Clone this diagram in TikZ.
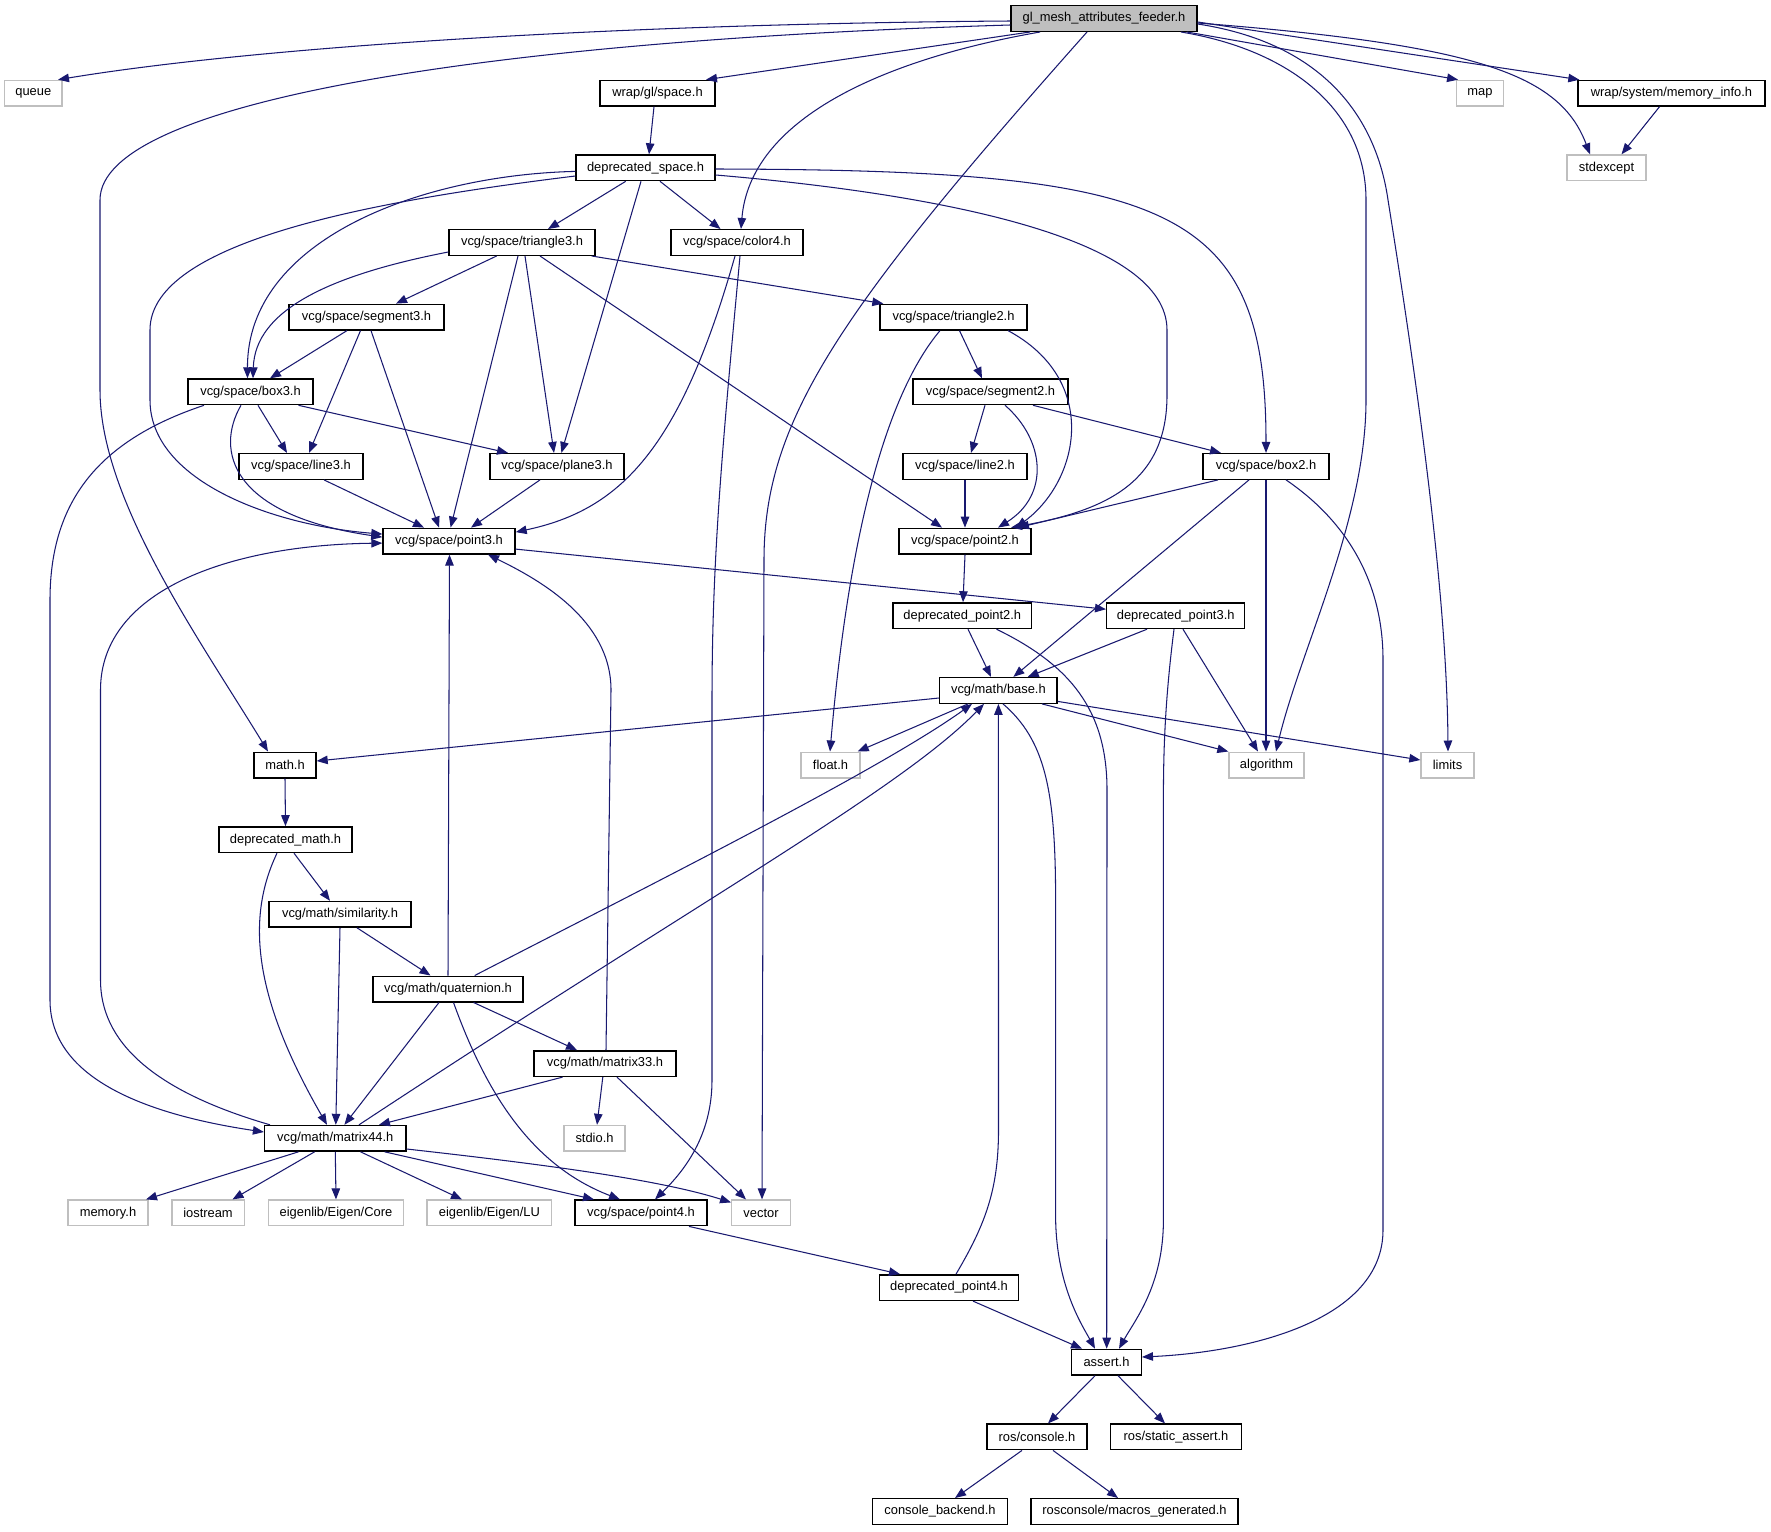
\documentclass[tikz,border=0pt]{standalone}
\usepackage{fontspec}
\setmainfont{Liberation Sans}
\usetikzlibrary{arrows.meta}
\definecolor{edgeblue}{HTML}{191970}
\definecolor{sysgray}{HTML}{BFBFBF}
\begin{document}
\begin{tikzpicture}[x=1pt,y=-1pt,
  hdr/.style={draw=black, fill=white, line width=1.4pt, minimum height=25.6pt, inner sep=0pt, font=\fontsize{12.9pt}{15pt}\selectfont},
  sys/.style={hdr, draw=sysgray},
  root/.style={hdr, fill=sysgray},
  dep/.style={draw=edgeblue, line width=1.05pt, -{Triangle[length=11pt,width=8.5pt]}}]
\useasboundingbox[fill=white] (0,0) rectangle (1771,1531);

\node[root, minimum width=186pt] (main) at (1104,18.5) {gl\_mesh\_attributes\_feeder.h};
\node[sys, minimum width=57.4pt] (queue) at (33.3,93.2) {queue};
\node[hdr, minimum width=115pt] (wrapgl) at (657.5,93.2) {wrap/gl/space.h};
\node[sys, minimum width=46.5pt] (map) at (1480,93.2) {map};
\node[hdr, minimum width=187pt] (meminfo) at (1671.5,93.2) {wrap/system/memory\_info.h};
\node[sys, minimum width=79pt] (stdexcept) at (1606.5,167.8) {stdexcept};
\node[hdr, minimum width=139pt] (depspace) at (645.5,167.8) {deprecated\_space.h};
\node[hdr, minimum width=146pt] (tri3) at (522,242.5) {vcg/space/triangle3.h};
\node[hdr, minimum width=132pt] (color4) at (737,242.5) {vcg/space/color4.h};
\node[hdr, minimum width=155pt] (seg3) at (366.5,317.1) {vcg/space/segment3.h};
\node[hdr, minimum width=147pt] (tri2) at (953.5,317.1) {vcg/space/triangle2.h};
\node[hdr, minimum width=125pt] (box3) at (250.5,391.8) {vcg/space/box3.h};
\node[hdr, minimum width=155pt] (seg2) at (990.5,391.8) {vcg/space/segment2.h};
\node[hdr, minimum width=124pt] (line3) at (301,466.4) {vcg/space/line3.h};
\node[hdr, minimum width=134pt] (plane3) at (557,466.4) {vcg/space/plane3.h};
\node[hdr, minimum width=124pt] (line2) at (965,466.4) {vcg/space/line2.h};
\node[hdr, minimum width=126pt] (box2) at (1266,466.4) {vcg/space/box2.h};
\node[hdr, minimum width=132pt] (point3) at (449,541.1) {vcg/space/point3.h};
\node[hdr, minimum width=132pt] (point2) at (965,541.1) {vcg/space/point2.h};
\node[hdr, minimum width=138.7pt] (dpoint2) at (962.3,615.7) {deprecated\_point2.h};
\node[hdr, minimum width=138pt] (dpoint3) at (1175.7,615.7) {deprecated\_point3.h};
\node[hdr, minimum width=117.3pt] (base) at (998.4,690.4) {vcg/math/base.h};
\node[hdr, minimum width=62pt] (math) at (285,765) {math.h};
\node[sys, minimum width=59pt] (float) at (830.5,765) {float.h};
\node[sys, minimum width=75pt] (algorithm) at (1266.5,765) {algorithm};
\node[sys, minimum width=53pt] (limits) at (1447.5,765) {limits};
\node[hdr, minimum width=133pt] (dmath) at (285.5,839.7) {deprecated\_math.h};
\node[hdr, minimum width=142pt] (similarity) at (340,914.3) {vcg/math/similarity.h};
\node[hdr, minimum width=150pt] (quaternion) at (448,989) {vcg/math/quaternion.h};
\node[hdr, minimum width=142pt] (matrix33) at (605,1063.6) {vcg/math/matrix33.h};
\node[sys, minimum width=61pt] (stdio) at (594.5,1138.3) {stdio.h};
\node[hdr, minimum width=141.4pt] (matrix44) at (335.3,1138.3) {vcg/math/matrix44.h};
\node[sys, minimum width=80pt] (memory) at (108,1212.9) {memory.h};
\node[sys, minimum width=72.4pt] (iostream) at (208,1212.9) {iostream};
\node[sys, minimum width=135pt] (eigcore) at (336,1212.9) {eigenlib/Eigen/Core};
\node[sys, minimum width=124.7pt] (eiglu) at (489.4,1212.9) {eigenlib/Eigen/LU};
\node[hdr, minimum width=131.7pt] (point4) at (641,1212.9) {vcg/space/point4.h};
\node[sys, minimum width=58.5pt] (vector) at (761,1212.9) {vector};
\node[hdr, minimum width=139pt] (dpoint4) at (949,1287.6) {deprecated\_point4.h};
\node[hdr, minimum width=69.6pt] (assert) at (1106.5,1362.2) {assert.h};
\node[hdr, minimum width=100pt] (rosconsole) at (1037,1436.9) {ros/console.h};
\node[hdr, minimum width=131pt] (rosstatic) at (1176,1436.9) {ros/static\_assert.h};
\node[hdr, minimum width=135pt] (cbackend) at (940,1511.5) {console\_backend.h};
\node[hdr, minimum width=207pt] (macros) at (1134.5,1511.5) {rosconsole/macros\_generated.h};

% main
\draw[dep] ([yshift=-2.5pt]main.west) .. controls (600,24) and (250,48) .. ([xshift=24.7pt]queue.north);
\draw[dep] ([yshift=-6.5pt]main.west) .. controls (500,40) and (100,100) .. (100,200) -- (100,390) .. controls (100,500) and (200,640) .. ([xshift=-17pt]math.north);
\draw[dep] ([xshift=-74pt]main.south) -- ([xshift=48.5pt]wrapgl.north);
\draw[dep] ([xshift=-64pt]main.south) .. controls (880,60) and (750,120) .. ([xshift=4pt]color4.north);
\draw[dep] ([xshift=-17pt]main.south) .. controls (840,310) and (764,420) .. (764,560) -- ([xshift=1pt]vector.north);
\draw[dep] ([xshift=77pt]main.south) .. controls (1290,50) and (1366,110) .. (1366,200) -- (1366,400) .. controls (1366,520) and (1300,650) .. ([xshift=9.5pt]algorithm.north);
\draw[dep] ([yshift=-5.5pt]main.east) .. controls (1335,45) and (1378,130) .. (1388,200) .. controls (1420,400) and (1447,600) .. ([xshift=0.5pt]limits.north);
\draw[dep] ([xshift=83pt]main.south) -- ([xshift=2pt]map.north west);
\draw[dep] ([yshift=-4.5pt]main.east) .. controls (1480,45) and (1560,75) .. ([xshift=-16.5pt]stdexcept.north);
\draw[dep] ([yshift=-3.5pt]main.east) -- ([xshift=2pt]meminfo.north west);
\draw[dep] ([xshift=-12pt]meminfo.south) -- ([xshift=15pt]stdexcept.north);
\draw[dep] ([xshift=-3.5pt]wrapgl.south) -- ([xshift=3.5pt]depspace.north);

% deprecated_space
\draw[dep] ([yshift=-3.6pt]depspace.west) .. controls (420,175) and (247,240) .. ([xshift=-3pt]box3.north);
\draw[dep] ([yshift=-8.2pt]depspace.west) .. controls (380,200) and (150,240) .. (150,330) -- (150,400) .. controls (150,480) and (270,525) .. ([yshift=7pt]point3.west);
\draw[dep] ([xshift=-19.8pt]depspace.south) -- ([xshift=26pt]tri3.north);
\draw[dep] ([xshift=-4.5pt]depspace.south) -- ([xshift=4.4pt]plane3.north);
\draw[dep] ([xshift=14.5pt]depspace.south) -- ([xshift=-16.5pt]color4.north);
\draw[dep] ([yshift=-7.2pt]depspace.east) .. controls (950,195) and (1167,240) .. (1167,330) -- (1167,395) .. controls (1167,480) and (1110,510) .. ([xshift=46pt]point2.north);
\draw[dep] ([yshift=-1.2pt]depspace.east) .. controls (1170,170) and (1266,205) .. (box2.north);

% triangle3
\draw[dep] ([yshift=-9.5pt]tri3.west) .. controls (330,275) and (255,310) .. ([xshift=2.5pt]box3.north);
\draw[dep] ([xshift=-25.4pt]tri3.south) -- ([xshift=29.5pt]seg3.north);
\draw[dep] ([xshift=-4pt]tri3.south) -- ([xshift=1.6pt]point3.north);
\draw[dep] ([xshift=3pt]tri3.south) -- ([xshift=-3pt]plane3.north);
\draw[dep] ([xshift=18pt]tri3.south) -- ([xshift=-23pt]point2.north);
\draw[dep] ([xshift=-4pt]tri3.south east) -- ([xshift=4pt]tri2.north west);

% color4
\draw[dep] ([xshift=-2pt]color4.south) .. controls (680,450) and (620,510) .. ([yshift=9pt]point3.east);
\draw[dep] ([xshift=3pt]color4.south) .. controls (722,450) and (712,560) .. (712,700) -- (712,1080) .. controls (712,1135) and (685,1170) .. ([xshift=14pt]point4.north);

% segment3
\draw[dep] ([xshift=-19.5pt]seg3.south) -- ([xshift=19.5pt]box3.north);
\draw[dep] ([xshift=-6pt]seg3.south) -- ([xshift=8pt]line3.north);
\draw[dep] ([xshift=4.5pt]seg3.south) -- ([xshift=-10pt]point3.north);

% triangle2
\draw[dep] ([xshift=-13.5pt]tri2.south) .. controls (890,390) and (850,520) .. ([xshift=-0.5pt]float.north);
\draw[dep] ([xshift=6pt]tri2.south) -- ([xshift=-8.5pt]seg2.north);
\draw[dep] ([xshift=54.5pt]tri2.south) .. controls (1100,380) and (1080,480) .. ([xshift=51pt]point2.north);

% box3
\draw[dep] ([xshift=7.5pt]box3.south) -- ([xshift=-14pt]line3.north);
\draw[dep] ([xshift=48pt]box3.south) -- ([xshift=-49pt]plane3.north);
\draw[dep] ([xshift=-9.5pt]box3.south) .. controls (215,450) and (230,515) .. ([yshift=4pt]point3.west);
\draw[dep] ([xshift=-46.5pt]box3.south) .. controls (100,440) and (50,500) .. (50,600) -- (50,1000) .. controls (50,1080) and (150,1115) .. ([yshift=6.3pt]matrix44.west);

% segment2
\draw[dep] ([xshift=-5.5pt]seg2.south) -- ([xshift=6pt]line2.north);
\draw[dep] ([xshift=14.5pt]seg2.south) .. controls (1045,440) and (1050,495) .. ([xshift=33pt]point2.north);
\draw[dep] ([xshift=42.5pt]seg2.south) -- ([xshift=-45pt]box2.north);

% line3, plane3, line2
\draw[dep] ([xshift=23pt]line3.south) -- ([xshift=-25pt]point3.north);
\draw[dep] ([xshift=-17pt]plane3.south) -- ([xshift=22pt]point3.north);
\draw[dep] (line2.south) -- (point2.north);

% box2
\draw[dep] ([xshift=-48pt]box2.south) -- ([xshift=53pt]point2.north);
\draw[dep] ([xshift=-17pt]box2.south) -- ([xshift=15pt]base.north);
\draw[dep] (box2.south) -- ([xshift=-0.5pt]algorithm.north);
\draw[dep] ([xshift=20pt]box2.south) .. controls (1345,520) and (1383,580) .. (1383,660) -- (1383,1230) .. controls (1383,1320) and (1250,1352) .. ([yshift=5.2pt]assert.east);

% point3, point2
\draw[dep] ([yshift=-8pt]point3.east) -- ([yshift=6.5pt]dpoint3.west);
\draw[dep] (point2.south) -- ([xshift=0.7pt]dpoint2.north);

% deprecated_point2
\draw[dep] ([xshift=5.7pt]dpoint2.south) -- ([xshift=-7.4pt]base.north);
\draw[dep] ([xshift=34.2pt]dpoint2.south) .. controls (1070,665) and (1107,710) .. (1107,790) -- ([xshift=0.2pt]assert.north);

% deprecated_point3
\draw[dep] ([xshift=-28.7pt]dpoint3.south) -- ([xshift=29.3pt]base.north);
\draw[dep] ([xshift=7.3pt]dpoint3.south) -- ([xshift=-8.5pt]algorithm.north);
\draw[dep] ([xshift=-1.7pt]dpoint3.south) .. controls (1165,700) and (1163.4,750) .. (1163.4,800) -- (1163.4,1220) .. controls (1163.4,1285) and (1135,1320) .. ([xshift=12.5pt]assert.north);

% base
\draw[dep] ([yshift=-7.6pt]base.west) -- ([yshift=4pt]math.east);
\draw[dep] ([xshift=-30.4pt]base.south) -- ([xshift=-3pt]float.north east);
\draw[dep] ([xshift=43.6pt]base.south) -- (algorithm.north west);
\draw[dep] ([yshift=-11pt]base.east) -- ([yshift=5pt]limits.west);
\draw[dep] ([xshift=4.6pt]base.south) .. controls (1045,740) and (1055.6,790) .. (1055.6,900) -- (1055.6,1215) .. controls (1055.6,1285) and (1082,1325) .. ([xshift=-11.5pt]assert.north);

% deprecated_point4
\draw[dep] ([xshift=7pt]dpoint4.north) .. controls (985,1225) and (998.5,1190) .. (998.5,1130) -- (base.south);
\draw[dep] ([xshift=24pt]dpoint4.south) -- ([xshift=-24.5pt]assert.north);

% math chain
\draw[dep] (math.south) -- (dmath.north);
\draw[dep] ([xshift=8.5pt]dmath.south) -- ([xshift=-10pt]similarity.north);
\draw[dep] ([xshift=-8.5pt]dmath.south) .. controls (245,920) and (255,1000) .. ([xshift=-8.3pt]matrix44.north);
\draw[dep] ([xshift=17pt]similarity.south) -- ([xshift=-17.5pt]quaternion.north);
\draw[dep] (similarity.south) -- ([xshift=0.5pt]matrix44.north);

% quaternion
\draw[dep] (quaternion.north) -- ([xshift=0.5pt]point3.south);
\draw[dep] ([xshift=26.7pt]quaternion.north) .. controls (650,885) and (880,770) .. ([xshift=-26.4pt]base.south);
\draw[dep] ([xshift=25.6pt]quaternion.south) -- ([xshift=-28pt]matrix33.north);
\draw[dep] ([xshift=-9pt]quaternion.south) -- ([xshift=9.1pt]matrix44.north);
\draw[dep] ([xshift=5.5pt]quaternion.south) .. controls (485,1090) and (530,1165) .. ([xshift=-21pt]point4.north);

% matrix33
\draw[dep] ([xshift=1pt]matrix33.north) -- (611,690) .. controls (611,620) and (540,580) .. ([xshift=39pt]point3.south);
\draw[dep] ([xshift=-2.2pt]matrix33.south) -- ([xshift=2.5pt]stdio.north);
\draw[dep] ([xshift=-42.4pt]matrix33.south) -- ([xshift=43.7pt]matrix44.north);
\draw[dep] ([xshift=12pt]matrix33.south) -- ([xshift=-15pt]vector.north);

% matrix44
\draw[dep] ([xshift=-65.3pt]matrix44.north) .. controls (150,1090) and (100.5,1040) .. (100.5,980) -- (100.5,690) .. controls (100.5,590) and (230,545) .. ([yshift=-2pt]point3.west);
\draw[dep] ([xshift=23.7pt]matrix44.north) .. controls (700,900) and (900,790) .. ([xshift=-14.4pt]base.south);
\draw[dep] ([xshift=-36.8pt]matrix44.south) -- ([xshift=38pt]memory.north);
\draw[dep] ([xshift=-20.7pt]matrix44.south) -- ([xshift=24.5pt]iostream.north);
\draw[dep] (matrix44.south) -- (eigcore.north);
\draw[dep] ([xshift=25.2pt]matrix44.south) -- ([xshift=-27.4pt]eiglu.north);
\draw[dep] ([xshift=49.3pt]matrix44.south) -- ([xshift=-47pt]point4.north);
\draw[dep] ([yshift=-10.7pt]matrix44.east) .. controls (550,1165) and (660,1180) .. ([yshift=-3pt]vector.north west);

% bottom
\draw[dep] ([xshift=48pt]point4.south) -- ([xshift=-49pt]dpoint4.north);
\draw[dep] ([xshift=-11.5pt]assert.south) -- ([xshift=11pt]rosconsole.north);
\draw[dep] ([xshift=11.5pt]assert.south) -- ([xshift=-11pt]rosstatic.north);
\draw[dep] ([xshift=-15pt]rosconsole.south) -- ([xshift=15pt]cbackend.north);
\draw[dep] ([xshift=16pt]rosconsole.south) -- ([xshift=-16.5pt]macros.north);
\end{tikzpicture}
\end{document}
